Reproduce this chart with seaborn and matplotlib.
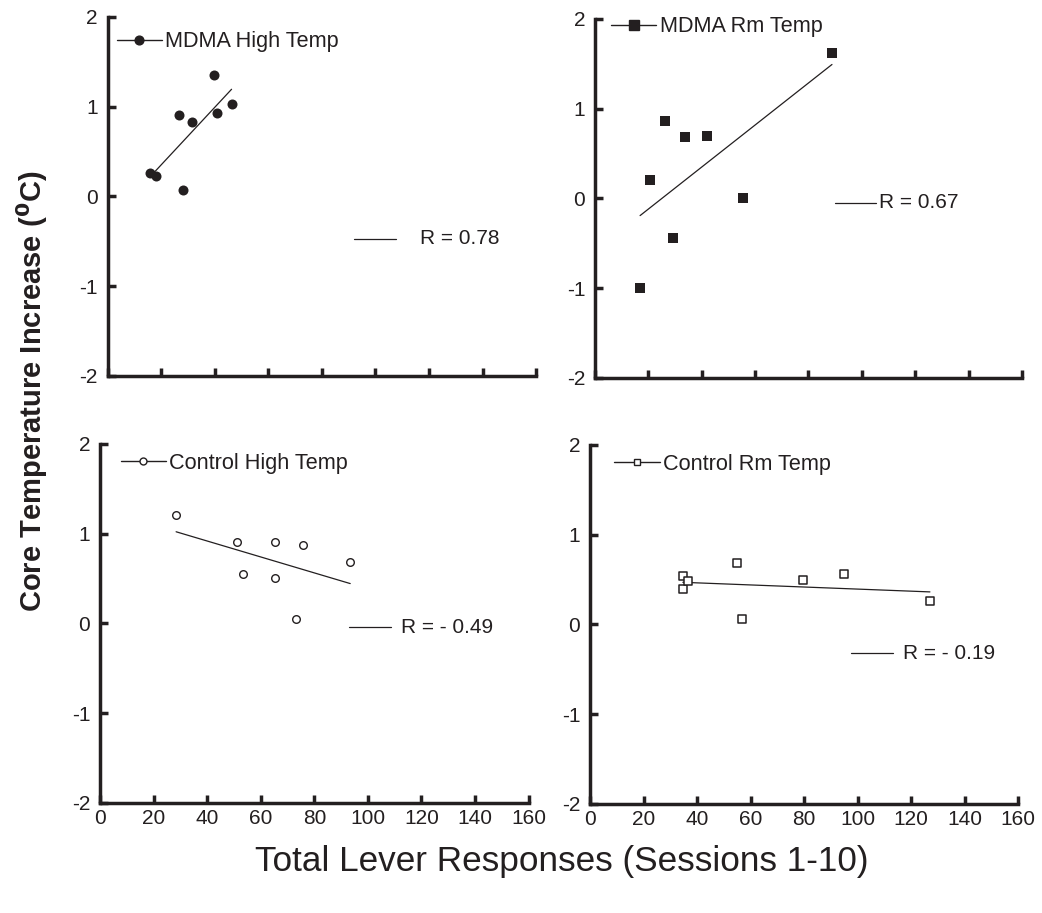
import numpy as np
import pandas as pd
import matplotlib
matplotlib.use("Agg")
import matplotlib.pyplot as plt
from matplotlib.lines import Line2D
from matplotlib import font_manager
import seaborn as sns

# ---- data ----
mdma_high_x = [15.9, 18.1, 26.7, 28.2, 31.5, 39.6, 41.0, 46.3]
mdma_high_y = [0.26, 0.23, 0.91, 0.07, 0.83, 1.35, 0.93, 1.03]

mdma_rm_x = [16.9, 20.8, 26.2, 29.1, 33.7, 41.8, 55.3, 88.8]
mdma_rm_y = [-1.00, 0.21, 0.86, -0.44, 0.68, 0.70, 0.00, 1.62]

ctrl_high_x = [28.4, 51.2, 53.2, 65.3, 65.3, 75.9, 73.3, 93.4]
ctrl_high_y = [1.21, 0.91, 0.55, 0.91, 0.51, 0.87, 0.05, 0.69]

ctrl_rm_x = [34.7, 34.7, 36.8, 54.9, 56.9, 79.6, 95.0, 127.0]
ctrl_rm_y = [0.54, 0.40, 0.48, 0.68, 0.06, 0.50, 0.56, 0.26]

labels = ["MDMA High Temp", "MDMA Rm Temp", "Control High Temp", "Control Rm Temp"]
r_texts = ["R = 0.78", "R = 0.67", "R = - 0.49", "R = - 0.19"]
x_ticks = [0, 20, 40, 60, 80, 100, 120, 140, 160]
y_ticks = [-2, -1, 0, 1, 2]

# ---- styling ----
sns.set_style("ticks")
plt.rcParams["font.family"] = ["Liberation Sans", "DejaVu Sans"]
plt.rcParams["mathtext.default"] = "regular"
plt.rcParams["axes.unicode_minus"] = False
INK = "#231f20"

installed = {f.name for f in font_manager.fontManager.ttflist}
if "Liberation Sans Narrow" in installed:
    ylab_family = ["Liberation Sans Narrow", "Liberation Sans", "DejaVu Sans"]
    ylab_size = 25
else:
    ylab_family = ["Liberation Sans", "DejaVu Sans"]
    ylab_size = 21

fig = plt.figure(figsize=(10.42, 9.13), dpi=100)
positions = [
    [0.1032, 0.5882, 0.4113, 0.3932],
    [0.5710, 0.5860, 0.4098, 0.3932],
    [0.0960, 0.1205, 0.4113, 0.3932],
    [0.5662, 0.1194, 0.4110, 0.3932],
]
series = [
    (mdma_high_x, mdma_high_y, "o", INK, 52, 0.0),
    (mdma_rm_x, mdma_rm_y, "s", INK, 50, 0.0),
    (ctrl_high_x, ctrl_high_y, "o", "white", 30, 1.0),
    (ctrl_rm_x, ctrl_rm_y, "s", "white", 36, 1.1),
]
leg_anchor = [(0.0215, 0.931), (0.037, 0.9786), (0.048, 0.946), (0.057, 0.946)]
leg_ms = [6.3, 6.5, 5.0, 5.0]
r_pos = [  # (x0, x1, y, text_x) in axes fraction
    (0.575, 0.673, 0.3825, 0.730),
    (0.562, 0.659, 0.4875, 0.666),
    (0.581, 0.679, 0.490, 0.702),
    (0.609, 0.708, 0.420, 0.730),
]

for i in range(4):
    ax = fig.add_axes(positions[i])
    xs, ys, mk, fc, s, lw = series[i]
    df = pd.DataFrame({"x": xs, "y": ys})
    sns.regplot(data=df, x="x", y="y", ax=ax, scatter=False, ci=None,
                truncate=True, line_kws=dict(color=INK, lw=0.9))
    sns.scatterplot(data=df, x="x", y="y", ax=ax, marker=mk, s=s,
                    color=fc, edgecolor=INK, linewidth=lw, zorder=3)
    ax.set_xlim(0, 160)
    ax.set_ylim(-2, 2)
    ax.set_xticks(x_ticks)
    ax.set_yticks(y_ticks)
    ax.set_xlabel("")
    ax.set_ylabel("")
    for side in ["top", "right"]:
        ax.spines[side].set_visible(False)
    for side in ["left", "bottom"]:
        ax.spines[side].set_linewidth(2.5)
        ax.spines[side].set_color(INK)
        ax.spines[side].set_capstyle("projecting")
    ax.tick_params(axis="both", direction="in", length=6, width=2.5,
                   color=INK, labelsize=15, labelcolor=INK)
    ax.tick_params(axis="y", pad=7)
    ax.tick_params(axis="x", pad=4)
    if i < 2:
        ax.tick_params(axis="x", labelbottom=False)

    handle = Line2D([0], [0], color=INK, lw=1.0, marker=mk, ms=leg_ms[i],
                    mfc=fc, mec=INK, mew=1.0)
    ax.legend([handle], [labels[i]], loc="center left",
              bbox_to_anchor=leg_anchor[i], frameon=False, borderpad=0,
              borderaxespad=0, handlelength=2.1, handletextpad=0.15,
              numpoints=1, fontsize=15.6, labelcolor=INK)

    x0, x1, yy, tx = r_pos[i]
    ax.plot([x0, x1], [yy, yy], color=INK, lw=0.9, transform=ax.transAxes)
    ax.text(tx, yy, r_texts[i], transform=ax.transAxes, ha="left",
            va="center", fontsize=15, color=INK)

fig.text(0.031, 0.571, r"Core Temperature Increase ($\mathbf{^{0}}$C)",
         rotation=90, ha="center", va="center", fontsize=ylab_size,
         fontweight="bold", color=INK, family=ylab_family)
fig.text(0.539, 0.056, "Total Lever Responses (Sessions 1-10)",
         ha="center", va="center", fontsize=25.3, color=INK)

fig.savefig("out.png", dpi=100)
